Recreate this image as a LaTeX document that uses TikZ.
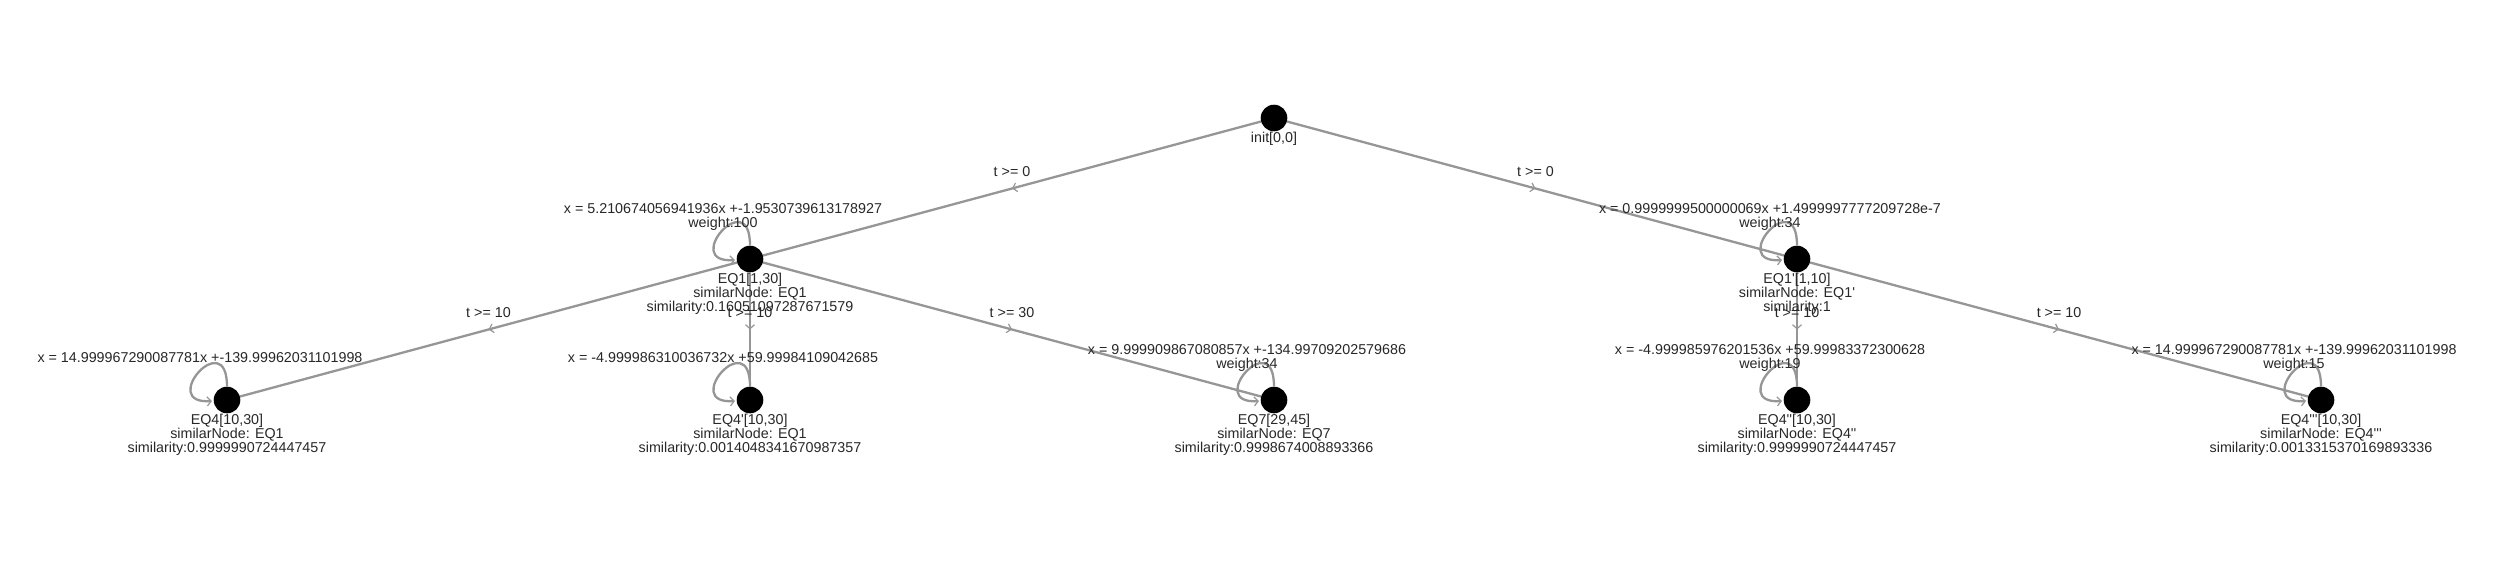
\documentclass[tikz,border=0pt]{standalone}
\usepackage{fontspec}
\setmainfont{Liberation Sans}[Ligatures=TeXOff]
\usetikzlibrary{arrows.meta,decorations.markings}
\definecolor{edgegray}{RGB}{150,150,150}
\definecolor{txt}{RGB}{40,40,40}
\tikzset{
  state/.style={circle,fill=black,draw=none,inner sep=0pt,minimum size=26.6pt},
  lbl/.style={font=\fontsize{14.3pt}{14pt}\selectfont,text=txt,align=center,inner sep=0pt},
  tree/.style={color=edgegray,line width=2.3pt,postaction={decorate},
    decoration={markings,mark=at position 0.5 with {\arrow{Straight Barb[length=4pt,width=9pt,line width=1.2pt]}}}},
  selfloop/.style={color=edgegray,line width=2.3pt,-{Straight Barb[length=4pt,width=9pt,line width=1.2pt]}},
}
\begin{document}
\begin{tikzpicture}[x=1pt,y=-1pt]
\fill[white] (0,0) rectangle (2500,562);
\useasboundingbox (0,0) rectangle (2500,562);
% states
\node[state] (init) at (1274,118) {};
\node[state] (eqa) at (750,259) {};
\node[state] (eqb) at (1797,259) {};
\node[state] (eqc) at (227,400) {};
\node[state] (eqd) at (750,400) {};
\node[state] (eqe) at (1274,400) {};
\node[state] (eqf) at (1797,400) {};
\node[state] (eqg) at (2321,400) {};
% transitions
\draw[tree] (init) -- node[lbl,midway,yshift=17pt] (ta) {t >= 0} (eqa);
\draw[tree] (init) -- node[lbl,midway,yshift=17pt] (tb) {t >= 0} (eqb);
\draw[tree] (eqa) -- node[lbl,midway,yshift=17pt] (tc) {t >= 10} (eqc);
\draw[tree] (eqa) -- node[lbl,midway,yshift=17pt] (td) {t >= 10} (eqd);
\draw[tree] (eqa) -- node[lbl,midway,yshift=17pt] (te) {t >= 30} (eqe);
\draw[tree] (eqb) -- node[lbl,midway,yshift=17pt] (tf) {t >= 10} (eqf);
\draw[tree] (eqb) -- node[lbl,midway,yshift=17pt] (tg) {t >= 10} (eqg);
% self loops
\foreach \n in {eqa,eqb,eqc,eqd,eqe,eqf,eqg}{
  \draw[selfloop] (\n.north) .. controls +(0,-62) and +(-55,4) .. ([shift={(-15,1)}]\n.center);
}
% loop labels
\node[lbl] (fa) at (723,216.5) {x = 5.210674056941936x +-1.9530739613178927\\weight:100};
\node[lbl] (fb) at (1770,216.5) {x = 0.9999999500000069x +1.4999997777209728e-7\\weight:34};
\node[lbl] (fc) at (200,357.5) {x = 14.999967290087781x +-139.99962031101998};
\node[lbl] (fd) at (723,357.5) {x = -4.999986310036732x +59.99984109042685};
\node[lbl] (fe) at (1247,357.5) {x = 9.999909867080857x +-134.99709202579686\\weight:34};
\node[lbl] (ff) at (1770,357.5) {x = -4.999985976201536x +59.99983372300628\\weight:19};
\node[lbl] (fg) at (2294,357.5) {x = 14.999967290087781x +-139.99962031101998\\weight:15};
% state labels
\node[lbl,anchor=north] (linit) at (1274,131.5) {init[0,0]};
\node[lbl,anchor=north] (la) at (750,272.5) {EQ1[1,30]\\similarNode: EQ1\\similarity:0.16051097287671579};
\node[lbl,anchor=north] (lb) at (1797,272.5) {EQ1'[1,10]\\similarNode: EQ1'\\similarity:1};
\node[lbl,anchor=north] (lc) at (227,413.5) {EQ4[10,30]\\similarNode: EQ1\\similarity:0.9999990724447457};
\node[lbl,anchor=north] (ld) at (750,413.5) {EQ4'[10,30]\\similarNode: EQ1\\similarity:0.0014048341670987357};
\node[lbl,anchor=north] (le) at (1274,413.5) {EQ7[29,45]\\similarNode: EQ7\\similarity:0.9998674008893366};
\node[lbl,anchor=north] (lf) at (1797,413.5) {EQ4''[10,30]\\similarNode: EQ4''\\similarity:0.9999990724447457};
\node[lbl,anchor=north] (lg) at (2321,413.5) {EQ4'''[10,30]\\similarNode: EQ4'''\\similarity:0.0013315370169893336};
\end{tikzpicture}
\end{document}
